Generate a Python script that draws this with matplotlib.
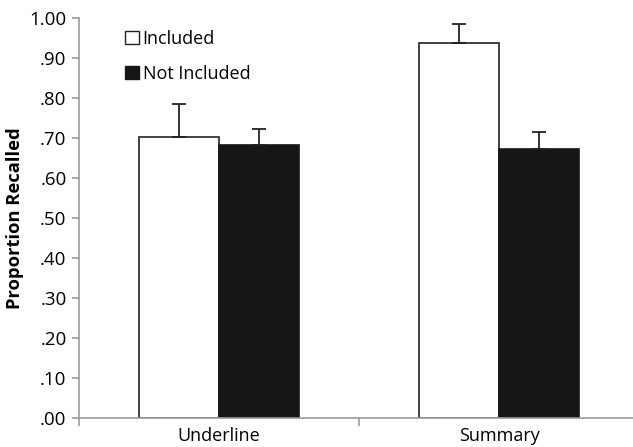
import numpy as np
import matplotlib.pyplot as plt
from matplotlib.patches import Patch

plt.rcParams['font.family'] = ['Open Sans', 'DejaVu Sans']

conditions = ['Underline', 'Summary']
included = [0.704, 0.937]
included_err = [0.082, 0.049]
not_included = [0.682, 0.672]
not_included_err = [0.042, 0.044]
y_ticks = [0.0, 0.1, 0.2, 0.3, 0.4, 0.5, 0.6, 0.7, 0.8, 0.9, 1.0]
y_labels = ['.00', '.10', '.20', '.30', '.40', '.50', '.60', '.70', '.80', '.90', '1.00']

fig = plt.figure(figsize=(6.33, 4.47), dpi=100)
ax = fig.add_axes([0.1248, 0.0642, 0.8847, 0.8949])

x = np.arange(len(conditions))
w = 0.2857
axis_gray = '#9a9a9a'

ax.bar(x - w / 2, included, w, color='white', edgecolor='#222222', linewidth=1.2,
       zorder=2)
ax.bar(x + w / 2, not_included, w, color='#161616', edgecolor='#161616', linewidth=1.2,
       zorder=2)
ax.errorbar(x - w / 2, included, yerr=[np.zeros(2), included_err], fmt='none',
            ecolor='#222222', elinewidth=1.3, capsize=5, capthick=1.3, zorder=3)
ax.errorbar(x + w / 2, not_included, yerr=[np.zeros(2), not_included_err], fmt='none',
            ecolor='#222222', elinewidth=1.3, capsize=5, capthick=1.3, zorder=3)

ax.set_xlim(-0.5, 1.5)
ax.set_ylim(0, 1.0)
ax.set_yticks(y_ticks)
ax.set_yticklabels(y_labels, fontsize=13.5)
ax.set_xticks(x)
ax.set_xticklabels(conditions, fontsize=13)
ax.set_xticks([-0.5, 0.5, 1.5], minor=True)
ax.tick_params(axis='x', which='major', length=0, pad=6)
ax.tick_params(axis='x', which='minor', length=6, color=axis_gray, width=1.2)
ax.tick_params(axis='y', length=5, color=axis_gray, width=1.2, pad=4)

for side in ['top', 'right']:
    ax.spines[side].set_visible(False)
for side in ['left', 'bottom']:
    ax.spines[side].set_color(axis_gray)
    ax.spines[side].set_linewidth(1.2)

ax.set_ylabel('Proportion Recalled', fontsize=13.2, fontweight='bold', va='center')
ax.yaxis.set_label_coords(-0.115, 0.5)

handles = [Patch(facecolor='white', edgecolor='#222222', linewidth=1.0),
           Patch(facecolor='#161616', edgecolor='#161616')]
ax.legend(handles, ['Included', 'Not Included'], loc='upper left',
          bbox_to_anchor=(0.07, 0.99), frameon=False, fontsize=13,
          handlelength=0.75, handleheight=0.75, handletextpad=0.2,
          labelspacing=0.95, borderaxespad=0)

fig.savefig('out.png', dpi=100)
